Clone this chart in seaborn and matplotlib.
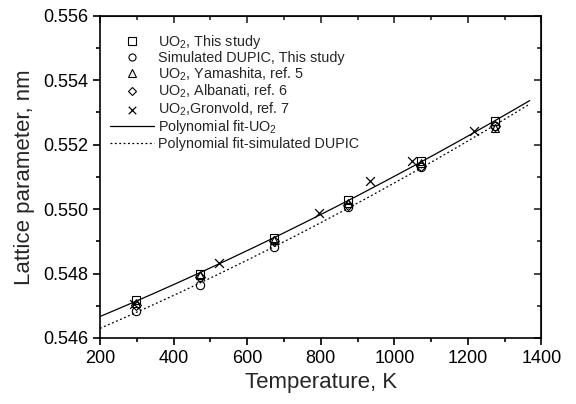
import matplotlib

matplotlib.use("Agg")
import matplotlib.pyplot as plt
import numpy as np
import pandas as pd
import seaborn as sns
from matplotlib.ticker import MultipleLocator

# temperatures, K
temp_study = [298, 473, 673, 873, 1073, 1273]
temp_gronvold = [293, 523, 795, 934, 1048, 1217]

# lattice parameters, nm
uo2_study = [0.54717, 0.54799, 0.54910, 0.55028, 0.55148, 0.55272]
dupic_study = [0.54683, 0.54765, 0.54882, 0.55005, 0.55130, 0.55258]
uo2_yamashita = [0.54708, 0.54795, 0.54905, 0.55020, 0.55142, 0.55250]
uo2_albanati = [0.54702, 0.54790, 0.54900, 0.55012, 0.55135, 0.55258]
uo2_gronvold = [0.54705, 0.54834, 0.54987, 0.55086, 0.55150, 0.55243]

fit_range = (200, 1368)


def main():
    sns.set_style("ticks")
    plt.rcParams["font.family"] = ["Liberation Sans", "DejaVu Sans"]
    plt.rcParams["mathtext.fontset"] = "custom"
    plt.rcParams["mathtext.rm"] = "Liberation Sans"
    plt.rcParams["mathtext.it"] = "Liberation Sans:italic"

    fig = plt.figure(figsize=(5.76, 4.04), dpi=100)
    ax = fig.add_axes([0.1736, 0.1634, 0.7665, 0.798])

    series = [
        ("UO$_2$, This study", temp_study, uo2_study, "s"),
        ("Simulated DUPIC, This study", temp_study, dupic_study, "o"),
        ("UO$_2$, Yamashita, ref. 5", temp_study, uo2_yamashita, "^"),
        ("UO$_2$, Albanati, ref. 6", temp_study, uo2_albanati, "D"),
        ("UO$_2$,Gronvold, ref. 7", temp_gronvold, uo2_gronvold, "x"),
    ]
    for label, xs, ys, mk in series:
        df = pd.DataFrame({"T": xs, "a": ys})
        size = 6 if mk != "D" else 5
        if mk == "x":
            sns.scatterplot(data=df, x="T", y="a", marker="x", color="black",
                            s=40, linewidth=0.9, label=label, ax=ax)
        else:
            ax.plot(df["T"], df["a"], linestyle="none", marker=mk, markersize=size,
                    markerfacecolor="none", markeredgecolor="black",
                    markeredgewidth=0.8, label=label)

    # polynomial fits to this study's data
    tt = np.linspace(fit_range[0], fit_range[1], 200)
    p_uo2 = np.polyfit(temp_study, uo2_study, 2)
    p_dup = np.polyfit(temp_study, dupic_study, 2)
    fit_df = pd.DataFrame({"T": tt, "uo2": np.polyval(p_uo2, tt), "dup": np.polyval(p_dup, tt)})
    sns.lineplot(data=fit_df, x="T", y="uo2", color="black", linewidth=0.9,
                 label="Polynomial fit-UO$_2$", ax=ax)
    sns.lineplot(data=fit_df, x="T", y="dup", color="black", linewidth=0.9,
                 linestyle=(0, (1.5, 2)), label="Polynomial fit-simulated DUPIC", ax=ax)

    ax.set_xlim(200, 1400)
    ax.set_ylim(0.546, 0.556)
    ax.xaxis.set_major_locator(MultipleLocator(200))
    ax.xaxis.set_minor_locator(MultipleLocator(100))
    ax.yaxis.set_major_locator(MultipleLocator(0.002))
    ax.yaxis.set_minor_locator(MultipleLocator(0.001))
    ax.yaxis.set_major_formatter(matplotlib.ticker.FormatStrFormatter("%.3f"))

    for side in ["left", "right", "top", "bottom"]:
        ax.spines[side].set_visible(True)
        ax.spines[side].set_linewidth(1.2)
        ax.spines[side].set_color("black")
    ax.tick_params(which="both", direction="out", colors="black", labelsize=13, width=1.2)
    ax.tick_params(which="major", length=5)
    ax.tick_params(which="minor", length=3)
    # mirrored ticks on the top and right, pointing inward
    top = ax.secondary_xaxis("top")
    top.xaxis.set_major_locator(MultipleLocator(200))
    top.xaxis.set_minor_locator(MultipleLocator(100))
    top.tick_params(which="both", direction="in", labeltop=False, width=1.2)
    top.tick_params(which="major", length=5)
    top.tick_params(which="minor", length=3)
    right = ax.secondary_yaxis("right")
    right.yaxis.set_major_locator(MultipleLocator(0.002))
    right.yaxis.set_minor_locator(MultipleLocator(0.001))
    right.tick_params(which="both", direction="in", labelright=False, width=1.2)
    right.tick_params(which="major", length=5)
    right.tick_params(which="minor", length=3)

    ax.set_xlabel("Temperature, K", fontsize=16, labelpad=4)
    ax.set_ylabel("Lattice parameter, nm", fontsize=16, labelpad=6)

    ax.legend(loc="upper left", frameon=False, fontsize=10.4, handlelength=3.0,
              handletextpad=0.3, labelspacing=0.02, borderaxespad=0.0,
              markerscale=0.85, bbox_to_anchor=(0.01, 0.965))

    fig.savefig("out.png", dpi=100)
    plt.close(fig)


if __name__ == "__main__":
    main()
